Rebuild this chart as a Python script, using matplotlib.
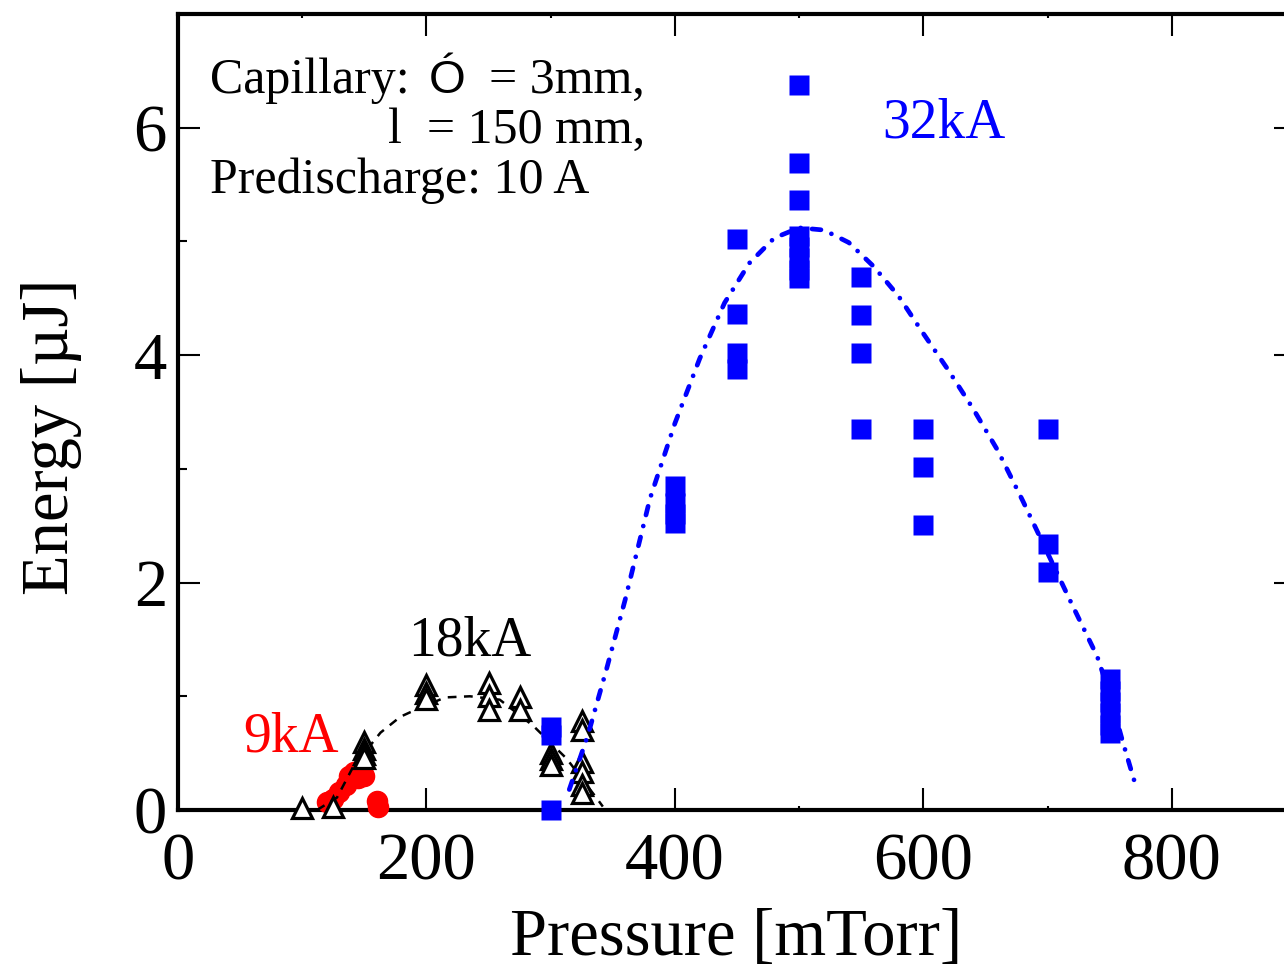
import matplotlib
matplotlib.use("Agg")
from matplotlib import pyplot as plt
import numpy as np

plt.rcParams['font.family'] = ['Liberation Serif', 'DejaVu Serif']

# 9kA shots (red circles)
p_9ka = [120, 125, 130, 135, 138, 142, 145, 148, 150, 160, 161]
e_9ka = [0.07, 0.10, 0.16, 0.22, 0.30, 0.33, 0.28, 0.35, 0.30, 0.08, 0.03]

# 18kA shots (open triangles)
p_18ka = [100, 125, 150, 150, 150, 150, 200, 200, 200,
          250, 250, 250, 275, 275, 300, 300, 300,
          325, 325, 325, 325, 325, 325]
e_18ka = [0.02, 0.03, 0.60, 0.54, 0.49, 0.46, 1.10, 1.03, 0.98,
          1.12, 1.00, 0.88, 0.99, 0.88, 0.50, 0.45, 0.40,
          0.78, 0.70, 0.42, 0.33, 0.22, 0.15]
# 18kA guide line
fit18_p = [112, 128, 141, 163, 179, 187, 215, 235, 259, 286, 313, 338, 342]
fit18_e = [0.0, 0.11, 0.38, 0.68, 0.82, 0.86, 0.99, 1.00, 0.97, 0.74, 0.45, 0.09, 0.03]

# 32kA shots (blue squares)
p_32ka = [300, 300, 300,
          400, 400, 400, 400,
          450, 450, 450, 450,
          500, 500, 500, 500, 500, 500, 500, 500,
          550, 550, 550, 550,
          600, 600, 600,
          700, 700, 700,
          750, 750, 750, 750, 750, 750]
e_32ka = [0.0, 0.73, 0.66,
          2.85, 2.70, 2.60, 2.52,
          5.02, 4.36, 4.02, 3.88,
          6.38, 5.69, 5.36, 5.05, 4.95, 4.85, 4.75, 4.68,
          4.69, 4.35, 4.02, 3.35,
          3.35, 3.02, 2.51,
          3.35, 2.34, 2.09,
          1.15, 1.05, 0.95, 0.85, 0.75, 0.68]
# 32kA guide line
fit32_p = [315, 330, 345, 360, 380, 400, 420, 440, 460, 480, 500, 520, 540,
           560, 580, 600, 620, 640, 660, 680, 700, 720, 740, 750, 760, 770]
fit32_e = [0.18, 0.66, 1.24, 1.85, 2.74, 3.40, 3.97, 4.46, 4.81, 5.03, 5.12, 5.10, 4.99,
           4.78, 4.52, 4.19, 3.87, 3.53, 3.16, 2.72, 2.26, 1.80, 1.35, 1.02, 0.62, 0.25]

W, H = 1284, 969
fig = plt.figure(figsize=(W / 100, H / 100), dpi=100)
ax = fig.add_axes([178 / W, (H - 810) / H, 1118 / W, 796 / H])


def fx(x):
    return x / W


def fy(y):
    return (H - y) / H


ax.plot(p_9ka, e_9ka, 'o', color='#ff0000', ms=14.5, mec='#ff0000', zorder=3, clip_on=False)
ax.plot(fit18_p, fit18_e, color='black', lw=1.8, ls=(0, (3.5, 3)), zorder=3.1)
ax.plot(p_18ka, e_18ka, '^', ms=14.5, mfc='white', mec='black', mew=2.3, zorder=3.2, clip_on=False)
ax.plot(p_32ka, e_32ka, 's', ms=15, color='#0000ff', mec='none', zorder=3.3, clip_on=False)
ax.plot(fit32_p, fit32_e, color='#0000ff', lw=3.4, ls=(0, (1.9, 2.4, 0.01, 2.4)),
        dash_capstyle='round', solid_capstyle='round', zorder=3.4)

ax.set_xlim(0, 900)
ax.set_ylim(0, 7)
ax.set_xticks([0, 200, 400, 600, 800])
ax.set_xticks(np.arange(100, 900, 200), minor=True)
ax.set_yticks([0, 2, 4, 6])
ax.set_yticks([1, 3, 5], minor=True)

ax.tick_params(which='both', direction='in', top=True, right=True, width=1.5)
ax.tick_params(which='major', length=16, labelsize=48)
ax.tick_params(axis='x', which='major', pad=16)
ax.tick_params(axis='y', which='major', pad=8)
ax.tick_params(axis='x', which='minor', length=3)
ax.tick_params(axis='y', which='minor', length=6.5)
for s in ax.spines.values():
    s.set_linewidth(3)

# axis titles
fig.text(fx(736), fy(955), 'Pressure [mTorr]', fontsize=48, ha='center', va='baseline')
fig.text(fx(68), fy(437), 'Energy [µJ]', fontsize=48, rotation=90,
         rotation_mode='anchor', ha='center', va='baseline')

# series labels
fig.text(fx(944), fy(137), '32kA', fontsize=40, color='#0000ff', ha='center', va='baseline')
fig.text(fx(470), fy(655), '18kA', fontsize=40, color='black', ha='center', va='baseline')
fig.text(fx(291), fy(752), '9kA', fontsize=40, color='#ff0000', ha='center', va='baseline')

# capillary note
fig.text(fx(210), fy(93), 'Capillary:', fontsize=36, ha='left', va='baseline')
fig.text(fx(447), fy(93), 'Ó', fontsize=34, family=['Liberation Sans', 'DejaVu Sans'],
         ha='center', va='baseline')
fig.text(fx(645), fy(93), '= 3mm,', fontsize=36, ha='right', va='baseline')
fig.text(fx(645), fy(143), 'l  = 150 mm,', fontsize=36, ha='right', va='baseline')
fig.text(fx(210), fy(193), 'Predischarge: 10 A', fontsize=36, ha='left', va='baseline')

fig.savefig('out.png', dpi=100)
